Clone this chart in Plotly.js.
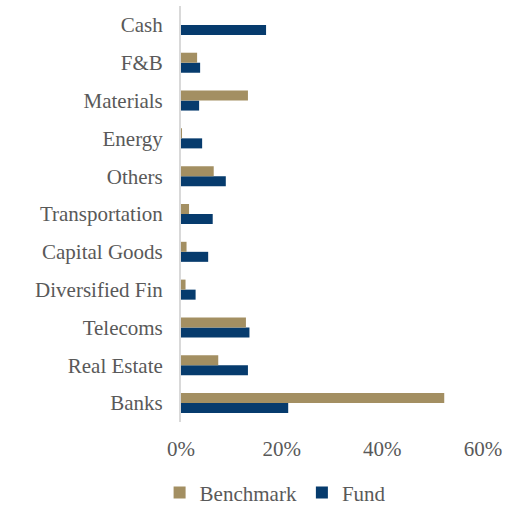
<!DOCTYPE html>
<html>
<head>
<meta charset="utf-8">
<script src="https://cdn.plot.ly/plotly-3.0.1.min.js"></script>
<style>html,body{margin:0;padding:0;background:#fff;}#chart{width:522px;height:505px;}</style>
</head>
<body>
<div id="chart"></div>
<script>
const categories = ["Banks", "Real Estate", "Telecoms", "Diversified Fin", "Capital Goods", "Transportation", "Others", "Energy", "Materials", "F&B", "Cash"];
const benchmark = [52.3, 7.4, 12.9, 0.9, 1.1, 1.6, 6.5, 0.2, 13.3, 3.2, 0];
const fund = [21.3, 13.3, 13.6, 2.9, 5.4, 6.3, 8.9, 4.2, 3.6, 3.8, 16.9];
const tickVals = [0, 20, 40, 60];
const tickText = ["0%", "20%", "40%", "60%"];

const font = {family: "'Liberation Serif', 'DejaVu Serif', 'Times New Roman', serif", size: 21, color: "#595959"};

const traces = [
  {type: "bar", orientation: "h", name: "Fund", y: categories, x: fund,
   marker: {color: "#063B6D"}, hoverinfo: "x+y"},
  {type: "bar", orientation: "h", name: "Benchmark", y: categories, x: benchmark,
   marker: {color: "#A38F62"}, hoverinfo: "x+y"}
];

const layout = {
  width: 522, height: 505,
  margin: {l: 181, r: 39, t: 6, b: 83},
  paper_bgcolor: "#fff", plot_bgcolor: "#fff",
  font: font,
  barmode: "group",
  bargap: 0.47, bargroupgap: 0,
  showlegend: true,
  legend: {orientation: "h", traceorder: "reversed", x: 0.527, xanchor: "center", xref: "container",
           y: 0.024, yanchor: "middle", yref: "container", font: font, itemwidth: 30},
  xaxis: {range: [0, 60], tickvals: tickVals, ticktext: tickText, showgrid: false, zeroline: false,
          showline: false, ticks: "", ticklabelstandoff: 12, fixedrange: true},
  yaxis: {type: "category", showgrid: false, zeroline: false, showline: true, linecolor: "#d9d9d9",
          linewidth: 2, ticks: "", ticklabelstandoff: 12, fixedrange: true}
};

Plotly.newPlot("chart", traces, layout, {displayModeBar: false, staticPlot: true});
</script>
</body>
</html>
